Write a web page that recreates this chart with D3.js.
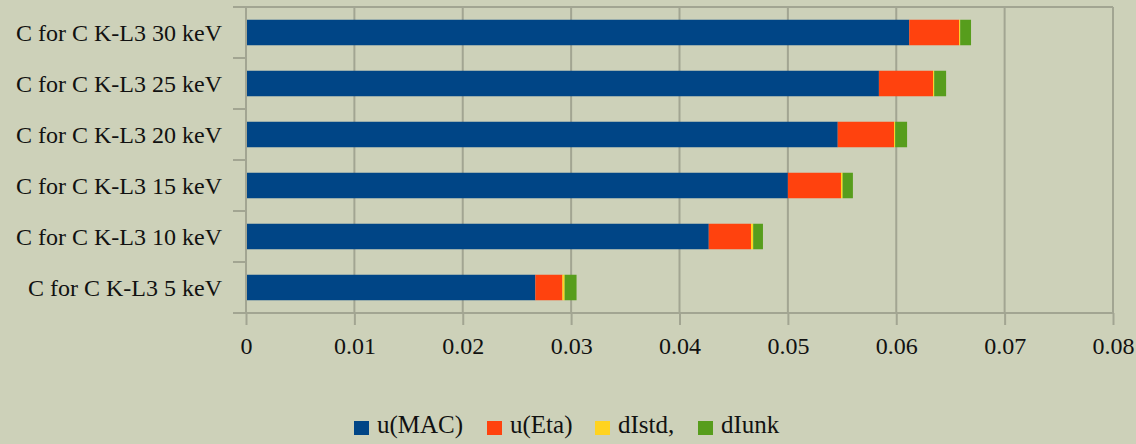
<!DOCTYPE html>
<html>
<head>
<meta charset="utf-8">
<script src="https://cdn.jsdelivr.net/npm/d3@7"></script>
<style>
  body { margin: 0; background: #cdd1b9; }
  svg { display: block; }
  text { font-family: "Liberation Serif", "Times New Roman", serif; fill: #111; }
</style>
</head>
<body>
<svg id="chart" width="1136" height="444"></svg>
<script>
let categories = [
  "C for C K-L3 30 keV",
  "C for C K-L3 25 keV",
  "C for C K-L3 20 keV",
  "C for C K-L3 15 keV",
  "C for C K-L3 10 keV",
  "C for C K-L3 5 keV"
];
let seriesNames = ["u(MAC)", "u(Eta)", "dIstd,", "dIunk"];
let uMAC = [0.0612, 0.0584, 0.0546, 0.0500, 0.0427, 0.0267];
let uEta = [0.0046, 0.0050, 0.0052, 0.0049, 0.0039, 0.0025];
let dIstd = [0.0001, 0.0001, 0.0001, 0.00015, 0.0002, 0.0002];
let dIunk = [0.0010, 0.0011, 0.0011, 0.00095, 0.0009, 0.0011];
let tickValues = [0, 0.01, 0.02, 0.03, 0.04, 0.05, 0.06, 0.07, 0.08];
let colors = ["#004586", "#ff420e", "#ffd320", "#579d1c"];

let rows = categories.map((c, i) => {
  return { cat: c, "u(MAC)": uMAC[i], "u(Eta)": uEta[i], "dIstd,": dIstd[i], "dIunk": dIunk[i] };
});

let svg = d3.select("#chart");
let plotLeft = 246, plotRight = 1113, plotTop = 7, plotBottom = 313;
let gridColor = "#a2a592";

let x = d3.scaleLinear().domain([0, 0.08]).range([plotLeft, plotRight]);
let y = d3.scaleBand().domain(categories).range([plotTop, plotBottom]).paddingInner(0.5).paddingOuter(0.25);
let yLines = d3.scaleBand().domain(categories).range([plotTop, plotBottom]);

// gridlines + frame
svg.append("g")
  .selectAll("line")
  .data(tickValues.slice(1))
  .enter()
  .append("line")
  .attr("x1", (d) => x(d)).attr("x2", (d) => x(d))
  .attr("y1", plotTop).attr("y2", plotBottom)
  .attr("stroke", gridColor).attr("stroke-width", 2);

svg.append("line")
  .attr("x1", plotLeft).attr("x2", plotRight)
  .attr("y1", plotTop).attr("y2", plotTop)
  .attr("stroke", gridColor).attr("stroke-width", 2);

let stack = d3.stack().keys(seriesNames);
let layers = stack(rows);

svg.append("g")
  .selectAll("g")
  .data(layers)
  .enter()
  .append("g")
  .attr("fill", (d, i) => colors[i])
  .selectAll("rect")
  .data((d) => d)
  .enter()
  .append("rect")
  .attr("x", (d) => x(d[0]))
  .attr("y", (d) => y(d.data.cat))
  .attr("width", (d) => x(d[1]) - x(d[0]))
  .attr("height", y.bandwidth());

// x axis
let xAxis = d3.axisBottom(x)
  .tickValues(tickValues)
  .tickFormat((d) => (d === 0 ? "0" : d3.format(".2f")(d)))
  .tickSize(12)
  .tickPadding(12);

let gx = svg.append("g").attr("transform", "translate(0," + plotBottom + ")").call(xAxis);
gx.select(".domain").attr("stroke", gridColor).attr("stroke-width", 2).attr("d", "M" + (plotLeft - 12) + ",0H" + plotRight);
gx.selectAll(".tick line").attr("stroke", gridColor).attr("stroke-width", 2);
gx.selectAll("text").attr("font-size", 24).attr("font-family", "Liberation Serif").attr("fill", "#111");

// y axis
let boundaries = categories.map((c) => yLines(c)).concat([plotBottom]);
svg.append("line")
  .attr("x1", plotLeft).attr("x2", plotLeft)
  .attr("y1", plotTop).attr("y2", plotBottom)
  .attr("stroke", gridColor).attr("stroke-width", 2);
svg.append("g")
  .selectAll("line")
  .data(boundaries)
  .enter()
  .append("line")
  .attr("x1", plotLeft - 13).attr("x2", plotLeft)
  .attr("y1", (d) => d).attr("y2", (d) => d)
  .attr("stroke", gridColor).attr("stroke-width", 2);

svg.append("g")
  .selectAll("text")
  .data(categories)
  .enter()
  .append("text")
  .attr("x", 222)
  .attr("y", (d) => y(d) + y.bandwidth() / 2)
  .attr("dy", "0.35em")
  .attr("text-anchor", "end")
  .attr("font-size", 24)
  .text((d) => d);

// legend
let legendX = [354, 487, 595, 698];
let legend = svg.append("g")
  .selectAll("g")
  .data(seriesNames)
  .enter()
  .append("g")
  .attr("transform", (d, i) => "translate(" + legendX[i] + ",421)");
legend.append("rect")
  .attr("width", 15).attr("height", 14)
  .attr("fill", (d, i) => colors[i]);
legend.append("text")
  .attr("x", 23).attr("y", 12)
  .attr("font-size", 25)
  .text((d) => d);
</script>
</body>
</html>
